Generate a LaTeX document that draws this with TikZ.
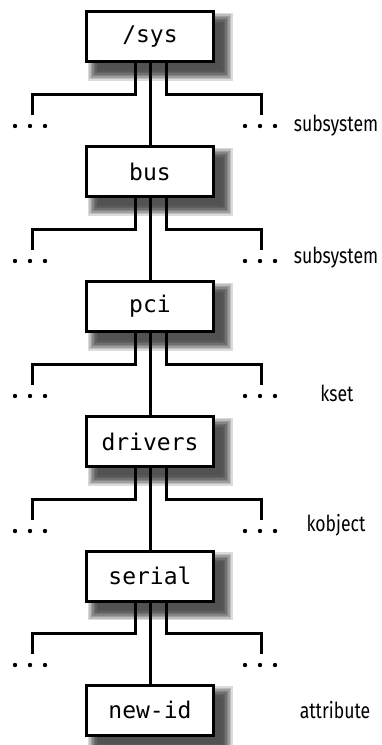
\documentclass[tikz,border=0pt]{standalone}
\usepackage{fontspec}
\setmonofont{DejaVu Sans Mono}
\newfontfamily\labelfont[FakeStretch=0.8]{Fira Sans}
\tikzset{
  dirbox/.style={draw, line width=3pt, fill=white, minimum width=127pt, minimum height=50pt,
    inner sep=0pt, font=\ttfamily\fontsize{23}{25}\selectfont},
  conn/.style={line width=3pt},
  kindlabel/.style={font=\labelfont\fontsize{22}{24}\selectfont, inner sep=0pt},
}
\newcommand{\threedots}[1]{%
  \fill (#1) ++(-15,0) circle (2.2);
  \fill (#1) circle (2.2);
  \fill (#1) ++(15,0) circle (2.2);}
\begin{document}
\begin{tikzpicture}[x=1pt, y=-1pt]
\useasboundingbox (0,0) rectangle (381,745);
\fill[white] (0,0) rectangle (381,745);
% shadows (drawn first, beneath the boxes)
\foreach \cy in {36.5,171.5,306.5,441.5,576,710}{
  \foreach \r/\g in {7.5/14,6/26,4.5/38,3/48,1.5/56,0/62,-1.5/66,-3/68}{
    \fill[black!\g] (85+10-\r,\cy-26.5+10-\r) rectangle (215+10+\r,\cy+26.5+10+\r);
  }
}
% boxes
\node[dirbox] (b0) at (150,36.5) {/sys};
\node[dirbox] (b1) at (150,171.5) {bus};
\node[dirbox] (b2) at (150,306.5) {pci};
\node[dirbox] (b3) at (150,441.5) {drivers};
\node[dirbox] (b4) at (150,576) {serial};
\node[dirbox] (b5) at (150,710) {new-id};
% trunk
\draw[conn] (b0.south) -- (b1.north);
\draw[conn] (b1.south) -- (b2.north);
\draw[conn] (b2.south) -- (b3.north);
\draw[conn] (b3.south) -- (b4.north);
\draw[conn] (b4.south) -- (b5.north);
% branches
\foreach \i/\yb in {0/63, 1/198, 2/333, 3/468, 4/602}{
  \coordinate (le\i) at (32,\yb+52);
  \coordinate (re\i) at (261,\yb+52);
  \coordinate (ld\i) at (30,\yb+63);
  \coordinate (rd\i) at (260,\yb+63);
  \draw[conn] ([xshift=-15pt]b\i.south) -- ++(0,31) -| (le\i);
  \draw[conn] ([xshift=16pt]b\i.south) -- ++(0,31) -| (re\i);
  \threedots{ld\i}
  \threedots{rd\i}
}
% labels
\node[kindlabel] (l0) at (336,126) {subsystem};
\node[kindlabel] (l1) at (336,258) {subsystem};
\node[kindlabel] (l2) at (337,393) {kset};
\node[kindlabel] (l3) at (336,525) {kobject};
\node[kindlabel] (l4) at (335,710) {attribute};
\end{tikzpicture}
\end{document}
